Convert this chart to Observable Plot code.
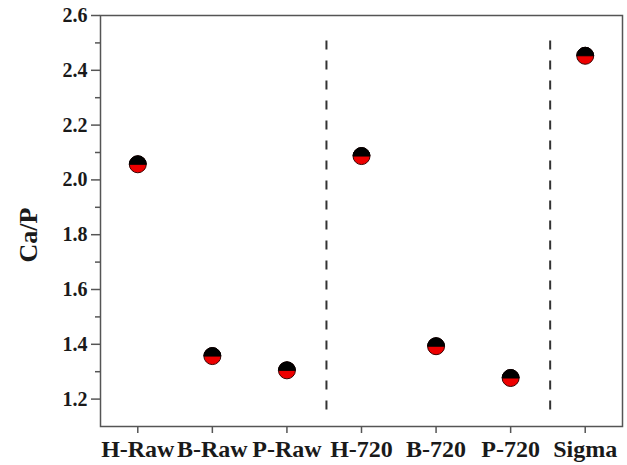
<!DOCTYPE html>
<html>
<head>
<meta charset="utf-8">
<script src="https://cdn.jsdelivr.net/npm/d3@7"></script>
<script src="https://cdn.jsdelivr.net/npm/@observablehq/plot@0.6"></script>
<style>
  html, body { margin: 0; padding: 0; background: #fff; }
  #chart svg { display: block; }
</style>
</head>
<body>
<div id="chart"></div>
<script>
const categories = ["H-Raw", "B-Raw", "P-Raw", "H-720", "B-720", "P-720", "Sigma"];
const caP = [2.057, 1.357, 1.305, 2.087, 1.393, 1.277, 2.453];
const separators = [2.53, 5.53];
const yMajorTicks = [1.2, 1.4, 1.6, 1.8, 2.0, 2.2, 2.4, 2.6];
const yMinorTicks = [1.3, 1.5, 1.7, 1.9, 2.1, 2.3, 2.5];

const data = categories.map((c, i) => ({i, name: c, v: caP[i]}));

const topHalf = {
  draw(context, size) {
    const r = Math.sqrt(size / Math.PI);
    context.moveTo(-r, 0);
    context.arc(0, 0, r, Math.PI, 2 * Math.PI);
    context.closePath();
  }
};

const chart = Plot.plot({
  width: 627,
  height: 465,
  marginLeft: 100,
  marginRight: 5,
  marginTop: 15,
  marginBottom: 39,
  style: {fontFamily: "'Liberation Serif', 'Times New Roman', serif", fontWeight: "bold", color: "#1a1a1a", background: "#fff"},
  x: {domain: [-0.5, 6.5], axis: null},
  y: {domain: [1.1, 2.6], axis: null},
  marks: [
    Plot.frame({stroke: "#555", strokeWidth: 1.5}),
    Plot.axisY({ticks: yMajorTicks, tickSize: 9, tickPadding: 4, tickFormat: d3.format(".1f"), fontSize: 20, stroke: "#555", strokeWidth: 1.5, label: null}),
    Plot.axisY({ticks: yMinorTicks, tickSize: 5, tickFormat: () => "", stroke: "#555", strokeWidth: 1.5, label: null}),
    Plot.axisX({ticks: d3.range(categories.length), tickSize: 7, tickPadding: 6, tickFormat: i => categories[i], fontSize: 24, stroke: "#555", strokeWidth: 1.5, label: null}),
    Plot.ruleX(separators, {x: d => d, y1: 1.16, y2: 2.52, stroke: "#333", strokeWidth: 2, strokeDasharray: "9,11"}),
    Plot.dot(data, {x: "i", y: "v", r: 8.5, fill: "#ee0000", stroke: "#3a0000", strokeWidth: 1}),
    Plot.dot(data, {x: "i", y: "v", r: 8.5, symbol: topHalf, fill: "#000", stroke: "#000", strokeWidth: 1}),
    Plot.text(["Ca/P"], {frameAnchor: "left", dx: -72, dy: 14, rotate: -90, textAnchor: "middle", fontSize: 26, fontWeight: "bold", fill: "#1a1a1a"})
  ]
});
document.getElementById("chart").appendChild(chart);
</script>
</body>
</html>
